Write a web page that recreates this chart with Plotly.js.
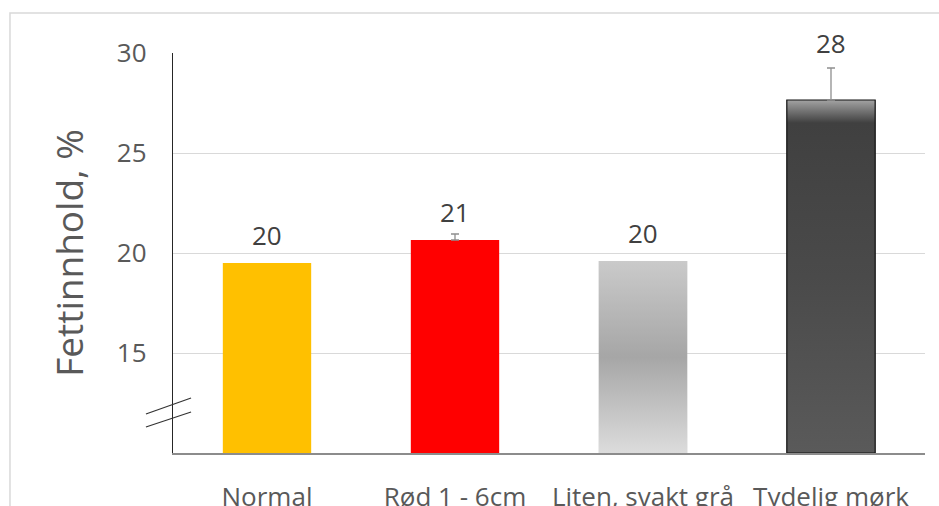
<!DOCTYPE html>
<html>
<head>
<meta charset="utf-8">
<script src="https://cdn.plot.ly/plotly-3.0.1.min.js"></script>
<style>html,body{margin:0;padding:0;background:#fff;}#chart{width:939px;height:506px;}</style>
</head>
<body>
<div id="chart"></div>
<script>
const categories = ['Normal', 'Rød 1 - 6cm', 'Liten, svakt grå', 'Tydelig mørk'];
const values = [19.5, 20.65, 19.6, 27.65];
const errorsPlus = [0, 0.3, 0, 1.6];
const valueLabels = ['20', '21', '20', '28'];
const yTickVals = [15, 20, 25, 30];
const yRange = [10, 30];

const barColors = ['#FFC000', '#FF0000', '#B4B4B4', '#474747'];
const barWidth = 0.47;
const positions = categories.map((c, i) => i);

const traces = [{
  type: 'bar',
  x: positions,
  y: values,
  width: barWidth,
  marker: {color: barColors, line: {width: 0}},
  hoverinfo: 'skip'
}];

// gradient overlays for the two grey bars
const gradients = {
  2: {colorscale: [[0, '#dcdcdc'], [0.5, '#a6a6a6'], [1, '#cacaca']], line: {width: 0, color: 'rgba(0,0,0,0)'}},
  3: {colorscale: [[0, '#5a5a5a'], [0.5, '#4a4a4a'], [0.935, '#404040'], [1, '#a3a3a3']], line: {width: 1.2, color: '#111111'}}
};
Object.keys(gradients).forEach(k => {
  const i = +k;
  const x0 = positions[i] - barWidth / 2, x1 = positions[i] + barWidth / 2;
  traces.push({
    type: 'scatter', mode: 'lines',
    x: [x0, x1, x1, x0, x0],
    y: [yRange[0], yRange[0], values[i], values[i], yRange[0]],
    fill: 'toself',
    fillgradient: {type: 'vertical', colorscale: gradients[k].colorscale},
    line: gradients[k].line,
    hoverinfo: 'skip', showlegend: false
  });
});

// error bars only where an error is given
const errIdx = positions.filter(i => errorsPlus[i] > 0);
traces.push({
  type: 'scatter', mode: 'markers',
  x: errIdx.map(i => positions[i]),
  y: errIdx.map(i => values[i]),
  marker: {size: 1, opacity: 0},
  error_y: {type: 'data', symmetric: false, array: errIdx.map(i => errorsPlus[i]),
            arrayminus: errIdx.map(() => 0), color: '#8f8f8f', thickness: 1.3, width: 4},
  hoverinfo: 'skip', showlegend: false
});

const annotations = values.map((v, i) => ({
  x: positions[i], y: v, xref: 'x', yref: 'y',
  text: valueLabels[i], showarrow: false,
  yanchor: 'middle', yshift: i === 3 ? 57 : 28,
  font: {family: 'Open Sans', size: 26, color: '#404040'}
}));

const shapes = [
  // outer chart frame
  {type: 'rect', xref: 'paper', yref: 'paper', x0: -0.2168, x1: 1.2, y0: -0.3, y1: 1.1,
   line: {color: '#d9d9d9', width: 1.5}, fillcolor: 'rgba(0,0,0,0)', layer: 'below'},
  // axis break marks
  {type: 'line', xref: 'paper', yref: 'y', x0: -0.036, x1: 0.024, y0: 11.95, y1: 12.75, line: {color: '#333', width: 1.2}},
  {type: 'line', xref: 'paper', yref: 'y', x0: -0.036, x1: 0.024, y0: 11.3, y1: 12.05, line: {color: '#333', width: 1.2}}
];

const layout = {
  width: 939, height: 506,
  margin: {l: 173, r: 14, t: 53, b: 53},
  paper_bgcolor: '#fff', plot_bgcolor: '#fff',
  showlegend: false,
  font: {family: 'Open Sans', color: '#595959'},
  xaxis: {
    range: [-0.5, 3.5], tickvals: positions, ticktext: categories,
    showgrid: false, zeroline: false, showline: true, linecolor: '#8c8c8c', linewidth: 1.5,
    ticks: '', ticklabelstandoff: 20,
    tickfont: {family: 'Open Sans', size: 26, color: '#595959'}, fixedrange: true
  },
  yaxis: {
    range: yRange, tickvals: yTickVals,
    showgrid: true, gridcolor: '#d9d9d9', gridwidth: 1,
    zeroline: false, showline: true, linecolor: '#262626', linewidth: 1.2,
    ticks: '', ticklabelstandoff: 20,
    tickfont: {family: 'Open Sans', size: 26, color: '#595959'},
    title: {text: 'Fettinnhold, %', font: {family: 'Open Sans', size: 37, color: '#595959'}, standoff: 22},
    fixedrange: true
  },
  annotations: annotations,
  shapes: shapes
};

Plotly.newPlot('chart', traces, layout, {displayModeBar: false, staticPlot: true});
</script>
</body>
</html>
